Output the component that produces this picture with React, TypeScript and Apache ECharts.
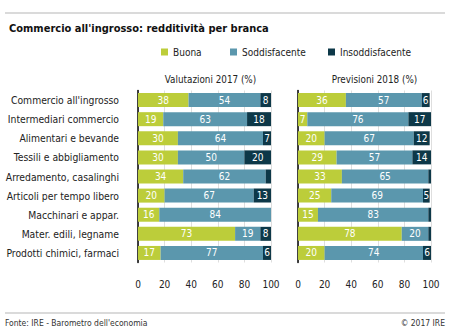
import React, { useEffect, useRef } from "react";
import * as echarts from "echarts";

const categories = [
  "Commercio all'ingrosso",
  "Intermediari commercio",
  "Alimentari e bevande",
  "Tessili e abbigliamento",
  "Arredamento, casalinghi",
  "Articoli per tempo libero",
  "Macchinari e appar.",
  "Mater. edili, legname",
  "Prodotti chimici, farmaci",
];

const buona2017 = [38, 19, 30, 30, 34, 20, 16, 73, 17];
const sodd2017 = [54, 63, 64, 50, 62, 67, 84, 19, 77];
const insodd2017 = [8, 18, 7, 20, 4, 13, 0, 8, 6];

const buona2018 = [36, 7, 20, 29, 33, 25, 15, 78, 20];
const sodd2018 = [57, 76, 67, 57, 65, 69, 83, 20, 74];
const insodd2018 = [6, 17, 12, 14, 2, 5, 2, 2, 6];

const seriesNames = ["Buona", "Soddisfacente", "Insoddisfacente"];
const xTicks = [0, 20, 40, 60, 80, 100];

const COLORS = ["#bccd3a", "#5b97ad", "#0d3848"];
const FONT = "'DejaVu Sans Condensed', 'Liberation Sans Narrow', 'Roboto', sans-serif";

export default function App() {
  const ref = useRef<HTMLDivElement>(null);
  useEffect(() => {
    if (!ref.current) return;
    const chart = echarts.init(ref.current, null, { renderer: "svg" });
    const label = {
      show: true,
      color: "#fff",
      fontSize: 10,
      fontFamily: FONT,
      formatter: (p: any) => (p.value >= 5 ? String(p.value) : ""),
    };
    const mk = (name: string, data: number[], idx: number, color: string) => ({
      name,
      type: "bar",
      stack: "s" + idx,
      xAxisIndex: idx,
      yAxisIndex: idx,
      data,
      barWidth: 14,
      itemStyle: { color },
      label,
    });
    const grids = [
      { left: 138, width: 133, top: 90.5, height: 172, outerBoundsMode: "none", containLabel: false },
      { left: 298, width: 133, top: 90.5, height: 172, outerBoundsMode: "none", containLabel: false },
    ];
    const xAxis = grids.map((_, i) => ({
      type: "value",
      gridIndex: i,
      min: 0,
      max: 100,
      interval: 20,
      axisLine: { show: false },
      axisTick: { show: false },
      splitLine: { show: true, lineStyle: { color: "#dedede", width: 1 } },
      axisLabel: {
        color: "#222",
        fontSize: 10,
        fontFamily: FONT,
        margin: 17,
        formatter: (v: number) => (xTicks.includes(v) ? String(v) : ""),
      },
    }));
    const yAxis = grids.map((_, i) => ({
      type: "category",
      gridIndex: i,
      inverse: true,
      data: categories,
      axisLine: { show: true, lineStyle: { color: "#000", width: 1.5 } },
      axisTick: { show: false },
      axisLabel: {
        show: i === 0,
        color: "#222",
        fontSize: 10.3,
        fontFamily: FONT,
        margin: 19,
      },
    }));
    const legendLefts = [161, 230, 328];
    chart.setOption({
      animation: false,
      backgroundColor: "#fff",
      title: [
        {
          text: "Commercio all'ingrosso: redditività per branca",
          left: 4,
          top: 18,
          textStyle: { fontSize: 11, fontWeight: "bold", color: "#111", fontFamily: FONT },
        },
        {
          text: "Valutazioni 2017 (%)",
          left: 205.5,
          top: 69,
          textAlign: "center",
          textStyle: { fontSize: 9.8, fontWeight: "normal", color: "#222", fontFamily: FONT },
        },
        {
          text: "Previsioni 2018 (%)",
          left: 369.5,
          top: 69,
          textAlign: "center",
          textStyle: { fontSize: 9.8, fontWeight: "normal", color: "#222", fontFamily: FONT },
        },
      ],
      legend: seriesNames.map((n, i) => ({
        data: [n],
        left: legendLefts[i],
        top: 47,
        padding: 0,
        itemWidth: 7,
        itemHeight: 7,
        itemTextGap: 2,
        icon: "rect",
        textStyle: { fontSize: 10, color: "#222", fontFamily: FONT },
      })),
      grid: grids,
      xAxis,
      yAxis,
      series: [
        mk("Buona", buona2017, 0, COLORS[0]),
        mk("Soddisfacente", sodd2017, 0, COLORS[1]),
        mk("Insoddisfacente", insodd2017, 0, COLORS[2]),
        mk("Buona", buona2018, 1, COLORS[0]),
        mk("Soddisfacente", sodd2018, 1, COLORS[1]),
        mk("Insoddisfacente", insodd2018, 1, COLORS[2]),
      ],
      graphic: [
        { type: "line", shape: { x1: 5, y1: 13, x2: 445, y2: 13 }, style: { stroke: "#b5b5b5", lineWidth: 1 } },
        { type: "line", shape: { x1: 5, y1: 313, x2: 445, y2: 313 }, style: { stroke: "#b5b5b5", lineWidth: 1 } },
        {
          type: "text",
          left: 5,
          top: 318,
          style: { text: "Fonte: IRE - Barometro dell'economia", fontSize: 8.5, fill: "#333", fontFamily: FONT },
        },
        {
          type: "text",
          right: 5,
          top: 318,
          style: { text: "© 2017 IRE", fontSize: 8.5, fill: "#333", fontFamily: FONT },
        },
      ],
    });
    return () => chart.dispose();
  }, []);
  return <div ref={ref} style={{ width: 450, height: 333, position: "absolute", left: 0, top: 0 }} />;
}
